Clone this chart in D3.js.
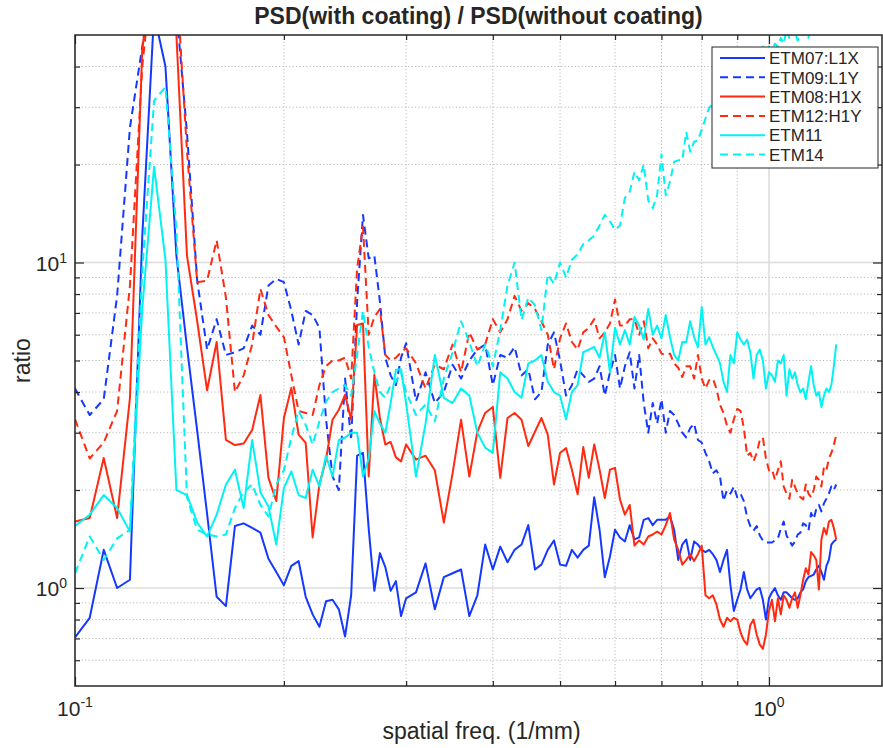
<!DOCTYPE html>
<html>
<head>
<meta charset="utf-8">
<script src="https://cdn.jsdelivr.net/npm/d3@7/dist/d3.min.js"></script>
<style>
  body { margin: 0; background: #fff; }
  svg text { font-family: "Liberation Sans", Arial, Helvetica, sans-serif; fill: #262626; }
</style>
</head>
<body>
<div id="chart"></div>
<script>
// spatial frequency (1/mm)
const freq = [
  0.1, 0.105, 0.11, 0.115, 0.12, 0.125, 0.13, 0.135, 0.14, 0.145,
  0.15, 0.155, 0.16, 0.165, 0.17, 0.175, 0.18, 0.185, 0.19, 0.195,
  0.2, 0.205, 0.21, 0.215, 0.22, 0.225, 0.23, 0.235, 0.24, 0.245,
  0.25, 0.255, 0.26, 0.265, 0.27, 0.275, 0.28, 0.285, 0.29, 0.295, 0.3,
  0.31, 0.32, 0.33, 0.34, 0.35, 0.36, 0.37, 0.38, 0.39, 0.4,
  0.41, 0.42, 0.43, 0.44, 0.45, 0.46, 0.47, 0.48, 0.49, 0.5,
  0.51, 0.52, 0.53, 0.54, 0.55, 0.56, 0.57, 0.58, 0.59, 0.6,
  0.61, 0.62, 0.63, 0.64, 0.65, 0.66, 0.67, 0.68, 0.69, 0.7,
  0.71, 0.72, 0.73, 0.74, 0.75, 0.76, 0.77, 0.78, 0.79, 0.8,
  0.81, 0.82, 0.83, 0.84, 0.85, 0.86, 0.87, 0.88, 0.89, 0.9,
  0.91, 0.92, 0.93, 0.94, 0.95, 0.96, 0.97, 0.98, 0.99, 1.0,
  1.01, 1.02, 1.03, 1.04, 1.05, 1.06, 1.07, 1.08, 1.09, 1.1,
  1.11, 1.12, 1.13, 1.14, 1.15, 1.16, 1.17, 1.18, 1.19, 1.2,
  1.21, 1.22, 1.23, 1.24, 1.25
];

// PSD ratio per mirror
const etm07 = [
  0.705, 0.81, 1.31, 1.0, 1.06, 12, 58, 40, 10.5, 5.5,
  3.04, 1.69, 0.94, 0.88, 1.55, 1.58, 1.53, 1.48, 1.23, 1.12,
  1.02, 1.17, 1.21, 0.94, 0.83, 0.76, 0.91, 0.92, 0.86, 0.71,
  0.95, 2.55, 2.6, 1.52, 0.98, 1.28, 1.16, 0.98, 1.05, 0.82, 0.93,
  0.97, 1.19, 0.86, 1.08, 1.11, 1.14, 0.82, 0.95, 1.36, 1.14,
  1.34, 1.2, 1.31, 1.36, 1.56, 1.14, 1.18, 1.31, 1.40, 1.18,
  1.17, 1.31, 1.24, 1.31, 1.35, 1.9, 1.51, 1.08, 1.25, 1.51,
  1.43, 1.39, 1.56, 1.41, 1.43, 1.62, 1.64, 1.56, 1.62, 1.62,
  1.62, 1.66, 1.51, 1.22, 1.36, 1.41, 1.22, 1.39, 1.36, 1.31,
  1.29, 1.31, 1.27, 1.22, 1.12, 1.22, 1.31, 1.02, 0.85, 0.92,
  0.99, 1.12, 0.99, 0.93, 0.96, 0.99, 1.0, 0.92, 0.80, 0.93,
  0.97, 1.0, 0.95, 0.92, 0.97, 0.97, 0.95, 0.93, 0.92, 0.93,
  0.97, 0.99, 1.05, 1.08, 1.09, 1.10, 1.14, 1.17, 1.12, 1.06,
  1.17, 1.22, 1.36, 1.39, 1.41
];

const etm09 = [
  4.1, 3.4, 3.8, 7.9, 26, 46, 80, 90, 60, 25,
  8.8, 5.4, 6.7, 5.2, 5.3, 5.45, 6.4, 6.0, 8.5, 8.9,
  8.7, 7.1, 5.6, 7.1, 6.9, 6.3, 3.3, 2.2, 2.0, 4.4,
  2.85, 7.6, 14, 10.3, 10.5, 7.6, 5.1, 4.5, 4.2, 5.1, 5.65,
  3.75, 4.6, 3.7, 4.0, 4.85, 4.4, 5.0, 5.4, 5.6, 4.2,
  5.2, 5.1, 5.5, 4.5, 4.7, 3.8, 4.0, 5.6, 6.1, 5.0,
  3.9, 4.2, 4.7, 4.5, 4.3, 4.4, 4.8, 3.9, 4.6, 5.2,
  4.1, 4.8, 5.3, 4.1, 5.2, 3.7, 3.0, 3.7, 3.2, 3.8,
  3.0, 3.5, 3.4, 3.2, 3.0, 2.9, 3.1, 3.2, 2.85, 2.8,
  2.6, 2.45, 2.25, 2.3, 2.2, 1.85, 2.0, 1.95, 2.05, 1.9,
  1.95, 1.85, 1.65, 1.55, 1.50, 1.55, 1.45, 1.40, 1.38, 1.38,
  1.38, 1.40, 1.42, 1.52, 1.6, 1.45, 1.40, 1.35, 1.39, 1.46,
  1.48, 1.58, 1.56, 1.50, 1.70, 1.63, 1.75, 1.80, 1.72, 1.82,
  1.88, 1.95, 2.05, 2.0, 2.08
];

const etm08 = [
  1.60, 1.64, 2.51, 1.64, 3.84, 45, 90, 100, 50, 10.5,
  6.6, 4.05, 5.7, 2.85, 2.75, 2.78, 3.06, 3.92, 2.18, 1.85,
  3.33, 4.12, 2.96, 2.79, 1.43, 2.08, 2.48, 3.29, 3.53, 3.92,
  3.29, 6.43, 6.5, 2.2, 4.52, 3.33, 2.76, 2.81, 2.52, 2.45, 2.76,
  2.48, 2.55, 2.3, 1.59, 2.25, 3.29, 2.2, 3.02, 3.45, 3.6,
  2.18, 3.33, 3.45, 3.29, 2.73, 3.02, 3.33, 2.96, 2.08, 2.6,
  2.69, 2.31, 1.94, 2.71, 2.18, 2.76, 2.31, 1.89, 2.31, 2.34,
  1.87, 1.68, 1.8, 1.35, 1.4, 1.36, 1.44, 1.46, 1.49, 1.46,
  1.56, 1.70, 1.41, 1.31, 1.18, 1.22, 1.27, 1.21, 1.27, 1.35,
  0.95, 0.93, 0.95, 0.89, 0.80, 0.76, 0.81, 0.79, 0.81, 0.80,
  0.73, 0.69, 0.67, 0.77, 0.80, 0.72, 0.67, 0.65, 0.72, 0.85,
  0.92, 0.79, 0.93, 0.83, 0.95, 0.92, 0.87, 0.93, 0.97, 0.87,
  0.95, 1.06, 1.15, 1.10, 1.29, 1.26, 1.22, 0.99, 1.41, 1.53,
  1.46, 1.60, 1.62, 1.53, 1.41
];

const etm12 = [
  3.3, 2.5, 2.8, 3.5, 8.5, 40, 90, 110, 75, 22,
  8.7, 8.8, 11.7, 7.8, 4.0, 4.5, 5.6, 8.3, 6.9, 6.35,
  5.9, 4.5, 3.5, 3.45, 3.4, 4.2, 4.8, 5.0, 5.0, 5.1,
  4.4, 9.6, 12.9, 6.0, 6.8, 7.2, 5.2, 5.0, 5.1, 5.3, 5.45,
  4.9, 4.1, 4.85, 4.7, 5.6, 4.6, 6.1, 5.4, 5.6, 6.7,
  6.1, 6.7, 7.9, 7.1, 7.5, 7.2, 6.6, 6.0, 4.7, 5.85,
  6.5, 5.7, 5.4, 6.1, 6.3, 6.7, 5.85, 6.1, 6.5, 7.7,
  6.4, 6.4, 6.7, 6.7, 6.0, 6.6, 5.45, 5.85, 5.6, 5.25,
  5.2, 5.25, 4.9, 4.75, 4.45, 4.8, 4.8, 4.4, 5.2, 4.4,
  4.1, 4.35, 4.4, 4.1, 3.65, 3.45, 3.15, 3.0, 3.3, 3.55,
  3.5, 3.1, 2.55, 2.6, 2.45, 2.6, 2.85, 2.9, 2.5, 2.3,
  2.32, 2.15, 2.3, 2.45, 2.05, 1.95, 1.88, 2.15, 2.05, 1.95,
  1.9, 1.87, 2.08, 1.95, 1.9, 2.0, 2.2, 2.15, 2.05, 2.35,
  2.3, 2.5, 2.6, 2.75, 2.95
];

const etm11 = [
  1.55, 1.68, 1.93, 1.76, 1.49, 7.2, 19.7, 10.2, 2.0, 1.93,
  1.59, 1.44, 1.68, 2.08, 2.31, 1.76, 2.85, 1.97, 1.78, 1.36,
  2.03, 2.28, 1.93, 1.89, 2.31, 2.05, 2.55, 2.2, 2.85, 2.9,
  3.0, 3.0, 2.2, 2.5, 3.5, 3.2, 3.0, 3.7, 4.68, 4.7, 3.7,
  2.2, 3.2, 5.2, 3.84, 3.7, 4.1, 3.9, 3.0, 2.7, 2.6,
  4.6, 4.4, 4.0, 3.84, 4.9, 5.0, 5.2, 4.3, 4.0, 3.9,
  3.3, 4.0, 4.2, 5.3, 5.4, 5.5, 5.1, 6.1, 4.6, 6.3,
  5.6, 6.2, 5.6, 6.8, 6.4, 5.8, 7.2, 6.0, 6.4, 5.85,
  6.9, 5.9, 5.2, 5.0, 5.7, 5.7, 6.6, 5.9, 5.5, 7.3,
  5.6, 5.9, 5.5, 5.2, 4.9, 4.3, 4.0, 5.2, 4.9, 6.1,
  5.8, 5.6, 5.8, 5.3, 4.4, 5.2, 5.4, 5.0, 4.1, 4.6,
  4.5, 4.3, 5.0, 4.9, 5.2, 3.9, 4.7, 4.4, 4.6, 4.2,
  4.0, 4.1, 3.8, 4.3, 4.8, 4.2, 3.9, 4.0, 3.6, 3.9,
  4.1, 4.0, 4.2, 4.8, 5.6
];

const etm14 = [
  1.11, 1.44, 1.22, 1.42, 1.51, 9.4, 31.4, 34.6, 12.6, 1.9,
  1.51, 1.46, 1.44, 1.46, 1.76, 1.97, 2.08, 1.80, 1.66, 2.08,
  2.3, 2.9, 3.5, 3.17, 2.76, 3.25, 3.74, 4.0, 4.1, 4.2,
  3.9, 5.2, 7.1, 5.5, 4.6, 4.0, 3.84, 4.2, 4.3, 4.6, 4.0,
  3.4, 3.66, 3.25, 4.4, 5.3, 6.6, 5.7, 4.8, 5.6, 4.8,
  6.2, 8.5, 10.0, 6.66, 7.8, 7.4, 6.2, 9.2, 8.6, 10.0,
  9.0, 10.2, 10.6, 11.4, 11.7, 12.1, 13.0, 14.0, 13.4, 12.6,
  13.0, 15.8, 16.5, 19.0, 17.9, 20.0, 15.5, 14.7, 16.1, 21.5,
  16.1, 17.7, 20.4, 20.6, 20.6, 25.2, 21.9, 23.5, 23.7, 25.6,
  27.7, 29.9, 30.7, 32, 31, 34, 33, 36, 35, 38,
  37, 40, 39, 42, 41, 44, 43, 46, 44, 46,
  45, 47, 46, 49, 47, 52, 49, 55, 51, 48,
  53, 50, 54, 49, 56, 52, 50, 57, 53, 60,
  55, 62, 65, 68, 72
];

const seriesNames = ["ETM07:L1X", "ETM09:L1Y", "ETM08:H1X", "ETM12:H1Y", "ETM11", "ETM14"];
const seriesValues = [etm07, etm09, etm08, etm12, etm11, etm14];

const xLimits = [0.1, 1.455];
const yLimits = [0.5, 50];
const xMajorTicks = [0.1, 1];
const xMinorTicks = [0.2, 0.3, 0.4, 0.5, 0.6, 0.7, 0.8, 0.9];
const yMajorTicks = [1, 10];
const yMinorTicks = [0.6, 0.7, 0.8, 0.9, 2, 3, 4, 5, 6, 7, 8, 9, 20, 30, 40];
const xTickExp = ["-1", "0"];
const yTickExp = ["0", "1"];

// styles
const lineColors = ["#1538ff", "#1538ff", "#ff2a10", "#ff2a10", "#00f2f2", "#00f2f2"];
const lineDashed = [false, true, false, true, false, true];

const width = 883, height = 748;
const box = { left: 75, right: 882, top: 35, bottom: 686 };

const svg = d3.select("#chart").append("svg")
  .attr("width", width)
  .attr("height", height);

const x = d3.scaleLog().domain(xLimits).range([box.left, box.right]);
const y = d3.scaleLog().domain(yLimits).range([box.bottom, box.top]);

// GRID
const grid = svg.append("g");
grid.selectAll(".xminor").data(xMinorTicks).join("line")
  .attr("x1", d => x(d)).attr("x2", d => x(d))
  .attr("y1", box.top).attr("y2", box.bottom)
  .attr("stroke", "#b9b9b9").attr("stroke-width", 1)
  .attr("stroke-dasharray", "1.2,2.2");
grid.selectAll(".yminor").data(yMinorTicks).join("line")
  .attr("y1", d => y(d)).attr("y2", d => y(d))
  .attr("x1", box.left).attr("x2", box.right)
  .attr("stroke", "#b9b9b9").attr("stroke-width", 1)
  .attr("stroke-dasharray", "1.2,2.2");
grid.selectAll(".xmajor").data(xMajorTicks).join("line")
  .attr("x1", d => x(d)).attr("x2", d => x(d))
  .attr("y1", box.top).attr("y2", box.bottom)
  .attr("stroke", "#dcdcdc").attr("stroke-width", 1.5);
grid.selectAll(".ymajor").data(yMajorTicks).join("line")
  .attr("y1", d => y(d)).attr("y2", d => y(d))
  .attr("x1", box.left).attr("x2", box.right)
  .attr("stroke", "#dcdcdc").attr("stroke-width", 1.5);

// LINES
svg.append("clipPath").attr("id", "clip")
  .append("rect")
  .attr("x", box.left).attr("y", box.top)
  .attr("width", box.right - box.left).attr("height", box.bottom - box.top);

const line = d3.line()
  .x((d, i) => x(freq[i]))
  .y(d => y(d));

const lines = svg.append("g").attr("clip-path", "url(#clip)");
seriesValues.forEach((vals, k) => {
  lines.append("path")
    .datum(vals)
    .attr("d", line)
    .attr("fill", "none")
    .attr("stroke", lineColors[k])
    .attr("stroke-width", 2)
    .attr("stroke-linejoin", "round")
    .attr("stroke-dasharray", lineDashed[k] ? "8,5" : null);
});

// AXES (inward ticks on all four sides)
function tickAxis(axis, values, size, transform) {
  const g = svg.append("g")
    .attr("transform", transform)
    .call(axis.tickValues(values).tickSize(-size).tickSizeOuter(0).tickFormat(""));
  g.select(".domain").remove();
  g.selectAll("line").attr("stroke", "#262626").attr("stroke-width", 1.2);
}
tickAxis(d3.axisBottom(x), xMajorTicks, 9, `translate(0,${box.bottom})`);
tickAxis(d3.axisBottom(x), xMinorTicks, 5, `translate(0,${box.bottom})`);
tickAxis(d3.axisTop(x), xMajorTicks, 9, `translate(0,${box.top})`);
tickAxis(d3.axisTop(x), xMinorTicks, 5, `translate(0,${box.top})`);
tickAxis(d3.axisLeft(y), yMajorTicks, 9, `translate(${box.left},0)`);
tickAxis(d3.axisLeft(y), yMinorTicks, 5, `translate(${box.left},0)`);
tickAxis(d3.axisRight(y), yMajorTicks, 9, `translate(${box.right},0)`);
tickAxis(d3.axisRight(y), yMinorTicks, 5, `translate(${box.right},0)`);

svg.append("rect")
  .attr("x", box.left).attr("y", box.top)
  .attr("width", box.right - box.left).attr("height", box.bottom - box.top)
  .attr("fill", "none").attr("stroke", "#262626").attr("stroke-width", 1.5);

// TICK LABELS
xMajorTicks.forEach((d, i) => {
  const t = svg.append("text")
    .attr("x", x(d)).attr("y", box.bottom + 30)
    .attr("text-anchor", "middle").attr("font-size", 21);
  t.append("tspan").text("10");
  t.append("tspan").attr("dy", -9).attr("font-size", 14).text(xTickExp[i]);
});
yMajorTicks.forEach((d, i) => {
  const t = svg.append("text")
    .attr("x", box.left - 8).attr("y", y(d) + 8)
    .attr("text-anchor", "end").attr("font-size", 21);
  t.append("tspan").text("10");
  t.append("tspan").attr("dy", -8).attr("font-size", 14).text(yTickExp[i]);
});

// TITLES
svg.append("text")
  .attr("x", (box.left + box.right) / 2).attr("y", 24)
  .attr("text-anchor", "middle")
  .attr("font-size", 23).attr("font-weight", "bold")
  .text("PSD(with coating) / PSD(without coating)");

svg.append("text")
  .attr("x", (box.left + box.right) / 2 + 3).attr("y", 739)
  .attr("text-anchor", "middle").attr("font-size", 23)
  .text("spatial freq. (1/mm)");

svg.append("text")
  .attr("transform", `translate(30,${(box.top + box.bottom) / 2}) rotate(-90)`)
  .attr("text-anchor", "middle").attr("font-size", 23)
  .text("ratio");

// LEGEND
const rowStep = 19.3;
const legend = svg.append("g").attr("transform", "translate(712,47)");
legend.append("rect")
  .attr("width", 166).attr("height", 121)
  .attr("fill", "#fff").attr("stroke", "#262626").attr("stroke-width", 1);

seriesNames.forEach((name, k) => {
  const rowY = 11 + k * rowStep;
  legend.append("line")
    .attr("x1", 8).attr("x2", 53)
    .attr("y1", rowY).attr("y2", rowY)
    .attr("stroke", lineColors[k]).attr("stroke-width", 2)
    .attr("stroke-dasharray", lineDashed[k] ? "8,5" : null);
  legend.append("text")
    .attr("x", 57).attr("y", rowY + 6.2)
    .attr("font-size", 17)
    .text(name);
});
</script>
</body>
</html>
